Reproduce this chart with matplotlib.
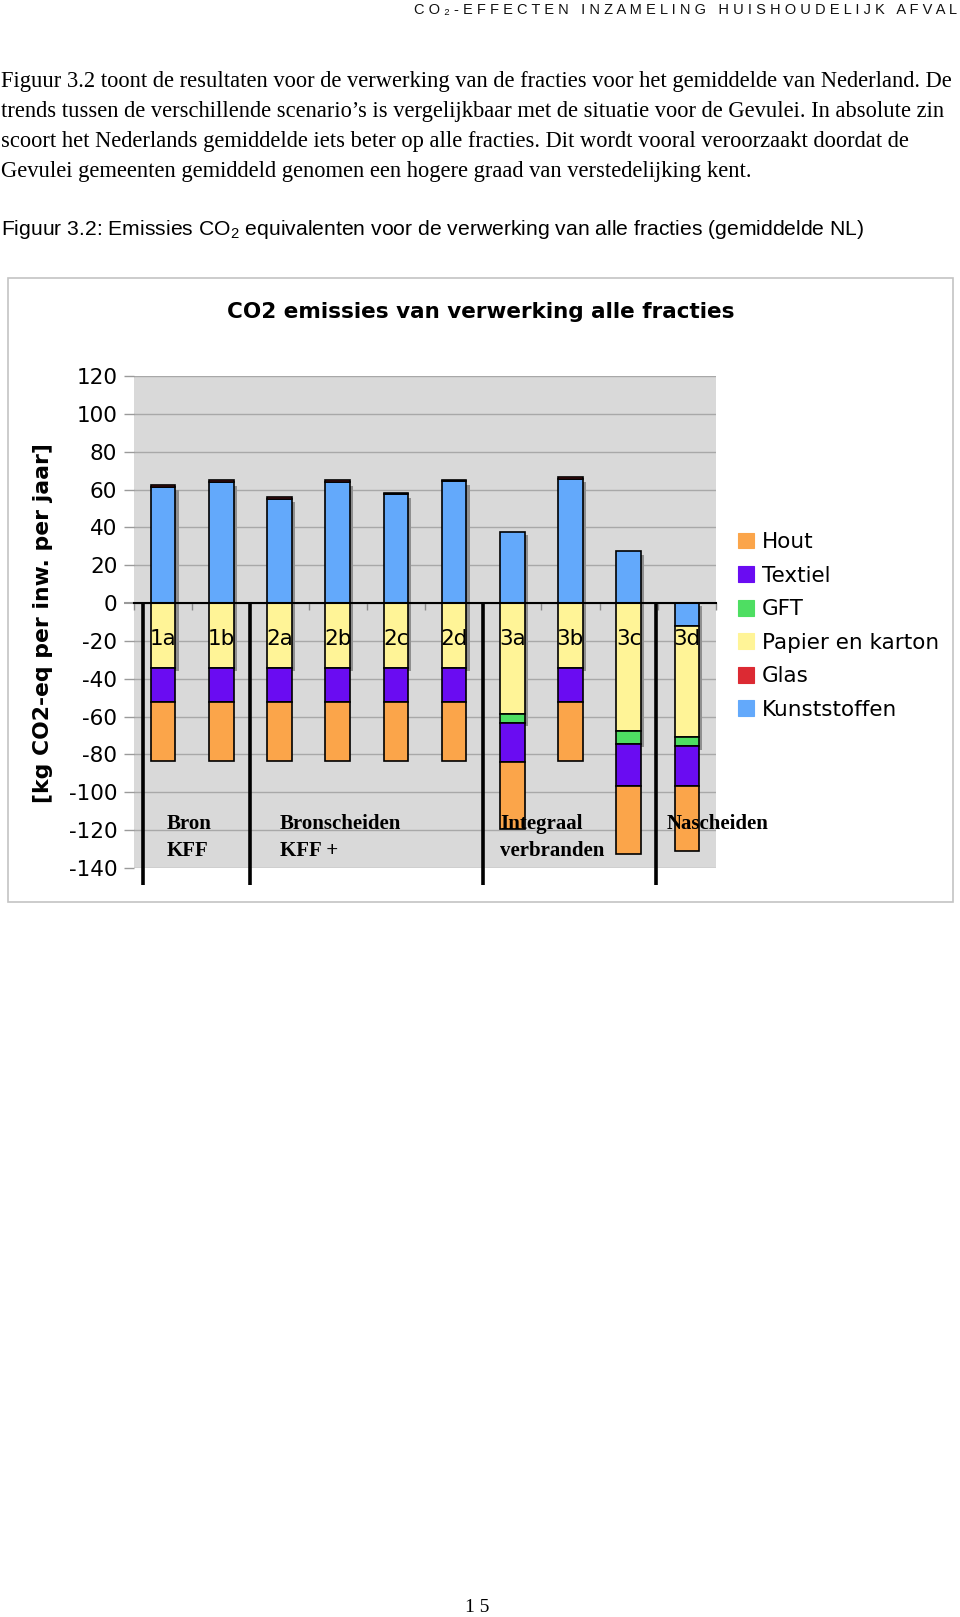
import matplotlib
matplotlib.use('Agg')
import matplotlib.pyplot as plt
from matplotlib.patches import Rectangle, Patch
import numpy as np

plt.rcParams['axes.unicode_minus'] = False

# ---------------- data ----------------
header_text = "CO₂-EFFECTEN INZAMELING HUISHOUDELIJK AFVAL"
paragraph_lines = [
    "Figuur 3.2 toont de resultaten voor de verwerking van de fracties voor het gemiddelde van Nederland. De",
    "trends tussen de verschillende scenario’s is vergelijkbaar met de situatie voor de Gevulei. In absolute zin",
    "scoort het Nederlands gemiddelde iets beter op alle fracties. Dit wordt vooral veroorzaakt doordat de",
    "Gevulei gemeenten gemiddeld genomen een hogere graad van verstedelijking kent.",
]
caption_text = "Figuur 3.2: Emissies CO$_\\mathregular{2}$ equivalenten voor de verwerking van alle fracties (gemiddelde NL)"
chart_title = "CO2 emissies van verwerking alle fracties"
y_label = "[kg CO2-eq per inw. per jaar]"
page_number = "1 5"

scenarios = ["1a", "1b", "2a", "2b", "2c", "2d", "3a", "3b", "3c", "3d"]
series_names = ["Kunststoffen", "Glas", "Papier en karton", "GFT", "Textiel", "Hout"]
kunststoffen = [61.3, 63.9, 55.1, 63.9, 57.4, 64.3, 37.8, 65.8, 27.4, -12.0]
glas = [1.0, 1.0, 1.0, 1.0, 0.9, 1.0, 0.0, 1.0, 0.0, 0.0]
papier = [-34.3, -34.3, -34.3, -34.3, -34.3, -34.3, -58.6, -34.3, -67.8, -58.6]
gft = [0.0, 0.0, 0.0, 0.0, 0.0, 0.0, -4.8, 0.0, -6.7, -5.1]
textiel = [-18.0, -18.0, -18.0, -18.0, -18.0, -18.0, -20.8, -18.0, -22.0, -20.8]
hout = [-31.3, -31.3, -31.3, -31.3, -31.3, -31.3, -35.0, -31.3, -35.9, -34.3]
series_values = [kunststoffen, glas, papier, gft, textiel, hout]
series_colors = ["#63a9fb", "#dc2a33", "#fff497", "#4ede62", "#6a0cf2", "#fba54a"]
shadow_series = {"Kunststoffen", "Papier en karton", "GFT"}

group_labels = ["Bron\nKFF", "Bronscheiden\nKFF +", "Integraal\nverbranden", "Nascheiden"]
y_ticks = list(range(-140, 121, 20))

# ---------------- layout ----------------
W, H = 960, 1617
fig = plt.figure(figsize=(W / 100, H / 100), dpi=100)
renderer = fig.canvas.get_renderer()


def fx(px):
    return px / W


def fy(py):
    return 1 - py / H


def fit_width(t, target):
    bb = t.get_window_extent(renderer)
    t.set_fontsize(t.get_fontsize() * target / bb.width)


# header
hdr = '   '.join(' '.join(w) for w in header_text.split(' '))
th = fig.text(fx(957), fy(14), hdr, ha='right', va='baseline', fontsize=9,
              family=['Liberation Sans', 'DejaVu Sans'], color='#111111')
fit_width(th, 536)

# paragraph
serif = ['Liberation Serif', 'DejaVu Serif']
t0 = fig.text(fx(1), fy(87), paragraph_lines[0], ha='left', va='baseline',
              fontsize=14, family=serif)
fit_width(t0, 955)
fs_par = t0.get_fontsize()
for i, line in enumerate(paragraph_lines[1:], start=1):
    fig.text(fx(1), fy(87 + 30 * i), line, ha='left', va='baseline',
             fontsize=fs_par, family=serif)

# caption
plt.rcParams['mathtext.fontset'] = 'custom'
plt.rcParams['mathtext.rm'] = 'Liberation Sans'
tc = fig.text(fx(1), fy(235), caption_text, ha='left', va='baseline', fontsize=13,
              family=['Liberation Sans', 'DejaVu Sans'])
fit_width(tc, 862)

# chart frame
fig.add_artist(Rectangle((fx(8), fy(902)), fx(945), 624 / H, transform=fig.transFigure,
                         facecolor='white', edgecolor='#c4c4c4', lw=1.2, zorder=0))

# title
tt = fig.text(fx(481), fy(318), chart_title, ha='center', va='baseline',
              fontsize=15, fontweight='bold', family='DejaVu Sans')
fit_width(tt, 508)

# axes
ax = fig.add_axes([fx(134), fy(868), fx(582), 492 / H])
ax.set_facecolor('#d9d9d9')
ax.set_xlim(-0.5, len(scenarios) - 0.5)
ax.set_ylim(-140, 120)
ax.set_yticks(y_ticks)
ax.set_yticklabels([str(v) for v in y_ticks], fontsize=15.5, family='DejaVu Sans')
ax.yaxis.grid(True, color='#a8a8a8', lw=1.0)
ax.set_axisbelow(True)
for s in ['left', 'right', 'top']:
    ax.spines[s].set_visible(False)
ax.spines['bottom'].set_position(('data', 0))
ax.spines['bottom'].set_color('black')
ax.spines['bottom'].set_linewidth(1.5)
ax.spines['bottom'].set_zorder(4)
ax.set_xticks(np.arange(-0.5, len(scenarios) + 0.5, 1.0))
ax.set_xticklabels([])
ax.tick_params(axis='x', direction='out', length=5, color='#8a8a8a', width=1)
ax.tick_params(axis='y', direction='out', length=7, color='#9a9a9a', width=1, pad=5)
for tk, v in zip(ax.yaxis.get_major_ticks(), y_ticks):
    if v == 0:
        tk.tick1line.set_color('black')
        tk.tick1line.set_markeredgewidth(1.5)

x = np.arange(len(scenarios))
bw = 0.425
pos_base = np.zeros(len(scenarios))
neg_base = np.zeros(len(scenarios))
dx_sh = 0.055
dy_sh = -1.8
for name, vals, col in zip(series_names, series_values, series_colors):
    vals = np.array(vals)
    bottoms = np.where(vals >= 0, pos_base, neg_base)
    mask = vals != 0
    if name in shadow_series:
        ax.bar(x[mask] + dx_sh, vals[mask], bw, bottom=bottoms[mask] + dy_sh,
               color='#8f8f8f', edgecolor='none', zorder=2)
    ax.bar(x[mask], vals[mask], bw, bottom=bottoms[mask], color=col,
           edgecolor='black', linewidth=1.2, zorder=3, label=name)
    pos_base = pos_base + np.where(vals >= 0, vals, 0)
    neg_base = neg_base + np.where(vals < 0, vals, 0)

# scenario labels, clipped to bar column
for xi, lab in zip(x, scenarios):
    clip = Rectangle((xi - bw / 2, -140), bw, 260, transform=ax.transData,
                     facecolor='none', edgecolor='none')
    ax.add_patch(clip)
    t = ax.text(xi, -19, lab, ha='center', va='center', fontsize=15.5,
                family='DejaVu Sans', zorder=6)
    t.set_clip_path(clip)

# separators
for sx in [-0.35, 1.5, 5.5, 8.47]:
    ax.plot([sx, sx], [0, -149], color='black', lw=2.6, zorder=5, clip_on=False,
            solid_capstyle='butt')

# group labels
gtexts = []
for gx, gl in zip([0.06, 2.0, 5.79, 8.66], group_labels):
    t = ax.text(gx, -111.5, gl, ha='left', va='top', fontsize=15, family=serif,
                fontweight='bold', linespacing=1.45, zorder=7)
    gtexts.append(t)
probe = fig.text(0, 0, "Bronscheiden", fontsize=15, family=serif, fontweight='bold')
bb = probe.get_window_extent(renderer)
gfs = 15 * 122 / bb.width
probe.remove()
for t in gtexts:
    t.set_fontsize(gfs)

# y label
ty = fig.text(fx(43), fy(623), y_label, rotation=90, ha='center', va='center',
              fontsize=15, fontweight='bold', family='DejaVu Sans')
bb = ty.get_window_extent(renderer)
ty.set_fontsize(ty.get_fontsize() * 359 / bb.height)

# legend
order = list(range(len(series_names)))[::-1]
leg_handles = [Patch(facecolor=series_colors[i], edgecolor=series_colors[i], lw=0.8)
               for i in order]
leg_labels = [series_names[i] for i in order]
leg = fig.legend(leg_handles, leg_labels, loc='upper left',
                 bbox_to_anchor=(fx(723), fy(517)), frameon=False,
                 prop={'family': 'DejaVu Sans', 'size': 15.5},
                 handlelength=0.75, handleheight=0.75, handletextpad=0.35,
                 labelspacing=0.63, borderpad=0.2)

# page number
fig.text(fx(477), fy(1612), page_number, ha='center', va='baseline', fontsize=14,
         family=serif)

fig.savefig('out.png', dpi=100)
